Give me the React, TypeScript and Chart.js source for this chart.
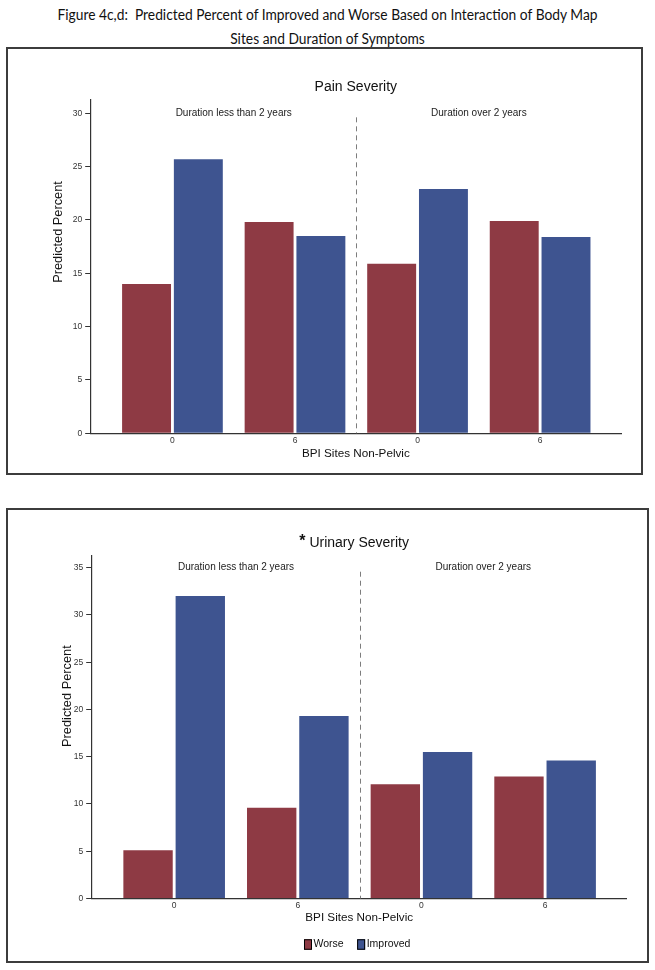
import React, { useEffect, useRef } from 'react';
import { Chart, registerables } from 'chart.js';

Chart.register(...registerables);

// ---------- data ----------
const figureTitleLines = [
  'Figure 4c,d:  Predicted Percent of Improved and Worse Based on Interaction of Body Map',
  'Sites and Duration of Symptoms',
];
const bpiTickLabels = ['0', '6', '0', '6'];
const durationLabels = ['Duration less than 2 years', 'Duration over 2 years'];
const seriesNames = ['Worse', 'Improved'];
const painWorse = [14.0, 19.8, 15.9, 19.9];
const painImproved = [25.7, 18.5, 22.9, 18.4];
const urinaryWorse = [5.1, 9.6, 12.1, 12.9];
const urinaryImproved = [32.0, 19.3, 15.5, 14.6];
const painYTicks = [0, 5, 10, 15, 20, 25, 30];
const urinaryYTicks = [0, 5, 10, 15, 20, 25, 30, 35];

const FONT = "'Liberation Sans', Arial, sans-serif";
const WORSE = '#8e3a44';
const IMPROVED = '#3e5490';
const AXIS = '#333333';

const annotatePlugin = {
  id: 'annotate',
  afterDraw(chart: any, _args: any, o: any) {
    const { ctx, chartArea: ca } = chart;
    const x = chart.scales.x;
    const y = chart.scales.y;
    const yTop = y.getPixelForValue(o.yTicks[o.yTicks.length - 1]);
    ctx.save();
    // divider between duration groups
    const dx = Math.round(x.getPixelForValue(1.5)) + 0.5;
    ctx.strokeStyle = '#7d7d7d';
    ctx.lineWidth = 1;
    ctx.setLineDash([5, 4]);
    ctx.beginPath();
    ctx.moveTo(dx, yTop + 4);
    ctx.lineTo(dx, ca.bottom);
    ctx.stroke();
    ctx.setLineDash([]);
    // duration labels
    ctx.fillStyle = '#222';
    ctx.textAlign = 'center';
    ctx.textBaseline = 'middle';
    ctx.font = `10px ${FONT}`;
    durationLabels.forEach((t, i) => ctx.fillText(t, x.getPixelForValue(2 * i + 0.5), yTop));
    // chart title
    const cx = (ca.left + ca.right) / 2;
    ctx.fillStyle = '#111';
    ctx.font = `14px ${FONT}`;
    ctx.fillText(o.title, cx, ca.top - 13);
    if (o.star) {
      const w = ctx.measureText(o.title).width;
      ctx.font = `bold 16px ${FONT}`;
      ctx.textAlign = 'right';
      ctx.fillText('*', cx - w / 2 - 4, ca.top - 14);
      ctx.textAlign = 'center';
    }
    // x axis title
    ctx.font = `11.7px ${FONT}`;
    ctx.fillText(o.xTitle, cx, ca.bottom + o.xTitleDy);
    // y axis title
    ctx.save();
    ctx.translate(ca.left - o.yTitleDx, (ca.top + ca.bottom) / 2 + o.yTitleDy);
    ctx.rotate(-Math.PI / 2);
    ctx.font = `12.8px ${FONT}`;
    ctx.fillText(o.yTitle, 0, 0);
    ctx.restore();
    // legend
    if (o.legend) {
      ctx.font = `10.5px ${FONT}`;
      const sw = 8, sh = 10.5, gap = 1.5, between = 13.5;
      const items = chart.data.datasets.map((d: any) => ({ label: d.label, color: d.backgroundColor, w: ctx.measureText(d.label).width }));
      const total = items.reduce((s: number, it: any) => s + sw + gap + it.w, 0) + between * (items.length - 1);
      let lx = cx - 2 - total / 2;
      const ly = ca.bottom + o.legendDy;
      ctx.textAlign = 'left';
      items.forEach((it: any) => {
        ctx.fillStyle = it.color;
        ctx.fillRect(lx, ly - sh / 2, sw, sh);
        ctx.strokeStyle = '#000';
        ctx.lineWidth = 1;
        ctx.strokeRect(lx + 0.5, ly - sh / 2 + 0.5, sw - 1, sh - 1);
        ctx.fillStyle = '#111';
        ctx.fillText(it.label, lx + sw + gap, ly);
        lx += sw + gap + it.w + between;
      });
    }
    ctx.restore();
  },
};

function makeConfig(p: any) {
  return {
    type: 'bar',
    data: {
      datasets: [
        { label: seriesNames[0], data: p.worse.map((v: number, i: number) => ({ x: i, y: v })), backgroundColor: WORSE, borderWidth: 0 },
        { label: seriesNames[1], data: p.improved.map((v: number, i: number) => ({ x: i, y: v })), backgroundColor: IMPROVED, borderWidth: 0 },
      ],
    },
    options: {
      responsive: false,
      animation: false,
      devicePixelRatio: 1,
      categoryPercentage: 0.845,
      barPercentage: 0.945,
      layout: { padding: { left: 0, top: p.padTop, right: p.padRight, bottom: 0 } },
      plugins: {
        legend: { display: false },
        title: { display: false },
        tooltip: { enabled: false },
        annotate: {
          title: p.title,
          star: p.star,
          yTicks: p.yTicks,
          xTitle: 'BPI Sites Non-Pelvic',
          yTitle: 'Predicted Percent',
          xTitleDy: p.xTitleDy,
          yTitleDx: p.yTitleDx,
          yTitleDy: p.yTitleDy,
          legend: p.legend,
          legendDy: p.legendDy,
        },
      },
      scales: {
        x: {
          type: 'linear',
          min: -0.667,
          max: 3.66,
          offset: false,
          afterFit: (s: any) => { s.height = p.xHeight; },
          afterBuildTicks: (s: any) => { s.ticks = bpiTickLabels.map((_, i) => ({ value: i })); },
          grid: { display: false, drawTicks: false, offset: false },
          border: { display: true, color: AXIS, width: 1.2 },
          ticks: {
            callback: (_v: any, i: number) => bpiTickLabels[i],
            autoSkip: false,
            maxRotation: 0,
            padding: 2,
            color: AXIS,
            font: { family: FONT, size: 8.5 },
          },
        },
        y: {
          type: 'linear',
          min: 0,
          max: p.yMax,
          afterFit: (s: any) => { s.width = p.yWidth; },
          afterBuildTicks: (s: any) => { s.ticks = p.yTicks.map((v: number) => ({ value: v })); },
          grid: { display: true, drawOnChartArea: false, drawTicks: true, tickLength: 5.5, color: AXIS, lineWidth: 1 },
          border: { display: true, color: AXIS, width: 1.2 },
          ticks: { padding: 3, color: AXIS, font: { family: FONT, size: 8.5 } },
        },
      },
    },
    plugins: [annotatePlugin],
  };
}

function ChartBox({ box, params }: any) {
  const ref = useRef<HTMLCanvasElement | null>(null);
  useEffect(() => {
    const c = new Chart(ref.current as HTMLCanvasElement, makeConfig(params) as any);
    return () => c.destroy();
  }, []);
  const cw = box.w - 4;
  const ch = box.h - 4;
  return (
    <div style={{ position: 'absolute', left: box.left, top: box.top, width: box.w, height: box.h, border: '2px solid #3c3c3c', boxSizing: 'border-box', background: '#fff' }}>
      <canvas ref={ref} width={cw} height={ch} style={{ display: 'block', width: cw, height: ch }} />
    </div>
  );
}

export default function App() {
  return (
    <div style={{ position: 'absolute', left: 0, top: 0, width: 655, height: 970, background: '#fff', overflow: 'hidden' }}>
      {figureTitleLines.map((t, i) => (
        <div key={i} style={{ position: 'absolute', left: 0, width: 655, top: 2 + i * 24, height: 24, lineHeight: '24px', textAlign: 'center', fontFamily: "Lato, 'Open Sans', sans-serif", fontSize: 15.5, color: '#111', whiteSpace: 'pre', transform: 'scaleX(0.89)', transformOrigin: '327.5px 50%' }}>
          {t}
        </div>
      ))}
      <ChartBox
        box={{ left: 6, top: 47, w: 637, h: 428 }}
        params={{ worse: painWorse, improved: painImproved, title: 'Pain Severity', star: false, yTicks: painYTicks, yMax: 31.25, padTop: 51, padRight: 20, yWidth: 82.7, xHeight: 39.7, xTitleDy: 20, yTitleDx: 32.4, yTitleDy: -34.7, legend: false, legendDy: 0 }}
      />
      <ChartBox
        box={{ left: 6, top: 508, w: 643, h: 455 }}
        params={{ worse: urinaryWorse, improved: urinaryImproved, title: 'Urinary Severity', star: true, yTicks: urinaryYTicks, yMax: 36.27, padTop: 45.7, padRight: 20.3, yWidth: 83.7, xHeight: 62.5, xTitleDy: 18.8, yTitleDx: 24.5, yTitleDy: -31, legend: true, legendDy: 46 }}
      />
    </div>
  );
}
